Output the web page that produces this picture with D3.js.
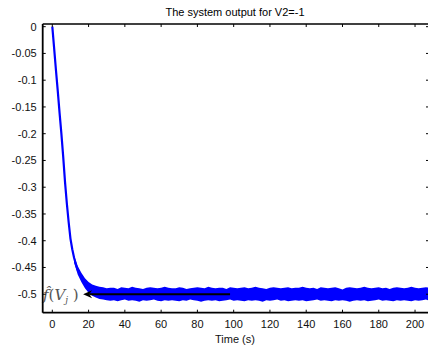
<!DOCTYPE html>
<html>
<head>
<meta charset="utf-8">
<style>
    body { margin: 0; background: #fff; }
    svg { display: block; }
    .tick-label { font-family: Arial, 'Liberation Sans', sans-serif; font-size: 11px; fill: #111; }
    .title { font-family: Arial, 'Liberation Sans', sans-serif; font-size: 11px; fill: #000; }
    .anno { font-family: 'DejaVu Serif', 'Liberation Serif', serif; font-style: italic; fill: #555; }
</style>
</head>
<body>
<svg width="428" height="350"></svg>
<script src="https://d3js.org/d3.v7.min.js"></script>
<script>
    // ticks
    const xTicks = [0, 20, 40, 60, 80, 100, 120, 140, 160, 180, 200];
    const yTicks = [0, -0.05, -0.1, -0.15, -0.2, -0.25, -0.3, -0.35, -0.4, -0.45, -0.5];

    // transient part of the output (centre line)
    const tFall = [0, 1, 2, 3, 4, 5, 6, 7, 8, 9, 10, 11, 12, 13, 14];
    const yFall = [0, -0.04, -0.081, -0.12, -0.161, -0.2, -0.243, -0.29, -0.33, -0.365, -0.396, -0.416, -0.432, -0.444, -0.455];

    // noisy band: sample times, upper and lower edge
    const tBand = [12, 14, 16, 18, 20, 22, 24, 26, 28, 30, 32, 34, 36, 38, 40, 42, 44, 46, 48,
        50, 52, 54, 56, 58, 60, 62, 64, 66, 68, 70, 72, 74, 76, 78, 80, 82, 84, 86, 88,
        90, 92, 94, 96, 98, 100, 102, 104, 106, 108, 110, 112, 114, 116, 118, 120, 122, 124, 126, 128,
        130, 132, 134, 136, 138, 140, 142, 144, 146, 148, 150, 152, 154, 156, 158, 160, 162, 164, 166, 168,
        170, 172, 174, 176, 178, 180, 182, 184, 186, 188, 190, 192, 194, 196, 198, 200, 202, 204, 206, 208];
    const yHi = [-0.428, -0.447, -0.460, -0.470, -0.477, -0.482, -0.484, -0.486, -0.487,
        -0.489, -0.488, -0.488, -0.490, -0.487, -0.488, -0.489, -0.486, -0.488, -0.489,
        -0.490, -0.488, -0.487, -0.488, -0.489, -0.488, -0.486, -0.488, -0.489, -0.489,
        -0.487, -0.488, -0.490, -0.489, -0.488, -0.487, -0.488, -0.489, -0.486, -0.488,
        -0.489, -0.488, -0.488, -0.490, -0.487, -0.488, -0.489, -0.488, -0.487, -0.489,
        -0.488, -0.486, -0.488, -0.489, -0.490, -0.488, -0.487, -0.488, -0.489, -0.488,
        -0.487, -0.489, -0.488, -0.488, -0.486, -0.488, -0.489, -0.488, -0.490, -0.487,
        -0.488, -0.489, -0.488, -0.487, -0.489, -0.491, -0.488, -0.487, -0.488, -0.489,
        -0.488, -0.486, -0.488, -0.489, -0.488, -0.487, -0.489, -0.488, -0.490, -0.488,
        -0.487, -0.488, -0.489, -0.488, -0.486, -0.488, -0.489, -0.488, -0.487, -0.488];
    const yLo = [-0.441, -0.463, -0.477, -0.489, -0.497, -0.503, -0.506, -0.509, -0.510,
        -0.511, -0.512, -0.511, -0.513, -0.511, -0.510, -0.512, -0.511, -0.512, -0.514,
        -0.511, -0.512, -0.511, -0.510, -0.512, -0.513, -0.511, -0.512, -0.511, -0.512,
        -0.513, -0.511, -0.512, -0.510, -0.511, -0.512, -0.514, -0.512, -0.511, -0.512,
        -0.511, -0.513, -0.512, -0.511, -0.510, -0.512, -0.511, -0.512, -0.513, -0.511,
        -0.512, -0.511, -0.512, -0.514, -0.511, -0.512, -0.511, -0.510, -0.512, -0.511,
        -0.513, -0.512, -0.511, -0.512, -0.511, -0.513, -0.512, -0.511, -0.510, -0.512,
        -0.511, -0.512, -0.513, -0.511, -0.512, -0.511, -0.512, -0.514, -0.512, -0.511,
        -0.512, -0.511, -0.513, -0.512, -0.511, -0.510, -0.512, -0.511, -0.512, -0.513,
        -0.511, -0.512, -0.511, -0.512, -0.513, -0.511, -0.512, -0.511, -0.510, -0.512];

    // annotation: arrow to the steady value
    const steady = -0.5;
    const arrowTip = 17;
    const arrowEnd = 98;

    const svg = d3.select("svg");
    const margin = { top: 24, right: -1, bottom: 37.3, left: 42.7 };
    const width = 428, height = 350;

    const x = d3.scaleLinear()
        .domain([-5.3, 207.7])
        .range([margin.left, width - margin.right]);

    const y = d3.scaleLinear()
        .domain([-0.5345, 0.005])
        .range([height - margin.bottom, margin.top]);

    const x0 = x.range()[0], x1 = x.range()[1];
    const y0 = y.range()[1], y1 = y.range()[0];

    // clip to the axes box
    svg.append("clipPath").attr("id", "clip")
        .append("rect").attr("x", x0).attr("y", y0).attr("width", x1 - x0).attr("height", y1 - y0);

    const plot = svg.append("g").attr("clip-path", "url(#clip)");

    // band
    const bandData = tBand.map((t, i) => ({ t: t, hi: yHi[i], lo: yLo[i] }));
    plot.append("path")
        .datum(bandData)
        .attr("d", d3.area().x(d => x(d.t)).y0(d => y(d.lo)).y1(d => y(d.hi)))
        .attr("fill", "#0000ff");

    // fall
    const fallData = tFall.map((t, i) => ({ t: t, v: yFall[i] }));
    plot.append("path")
        .datum(fallData)
        .attr("d", d3.line().x(d => x(d.t)).y(d => y(d.v)))
        .attr("fill", "none")
        .attr("stroke", "#0000ff")
        .attr("stroke-width", 2.2);

    // annotation arrow
    const ay = y(steady);
    const tipX = x(arrowTip);
    plot.append("line")
        .attr("x1", tipX + 6).attr("x2", x(arrowEnd))
        .attr("y1", ay).attr("y2", ay)
        .attr("stroke", "#000").attr("stroke-width", 1.8);
    plot.append("path")
        .attr("d", `M${tipX},${ay} L${tipX + 9},${ay - 4} L${tipX + 6},${ay} L${tipX + 9},${ay + 4} Z`)
        .attr("fill", "#000");

    const anno = svg.append("text").attr("class", "anno")
        .attr("x", 43).attr("y", ay + 6).attr("font-size", 15);
    anno.append("tspan").text("f\u0302");
    anno.append("tspan").attr("font-style", "normal").text("(");
    anno.append("tspan").text("V");
    anno.append("tspan").attr("font-size", 9).attr("dy", 3).text("j");
    anno.append("tspan").attr("font-style", "normal").attr("dy", -3).text(" )");

    // box
    const axes = svg.append("g");
    axes.append("line").attr("x1", x0).attr("x2", x0).attr("y1", y0).attr("y2", y1)
        .attr("stroke", "#000").attr("stroke-width", 1.8);
    axes.append("line").attr("x1", x0).attr("x2", x1).attr("y1", y1).attr("y2", y1)
        .attr("stroke", "#000").attr("stroke-width", 1.8);
    axes.append("line").attr("x1", x0).attr("x2", x1).attr("y1", y0).attr("y2", y0)
        .attr("stroke", "#000").attr("stroke-width", 1.4);
    axes.append("line").attr("x1", x1).attr("x2", x1).attr("y1", y0).attr("y2", y1)
        .attr("stroke", "#000").attr("stroke-width", 1.4);

    // inward ticks
    const tickLen = 3;
    xTicks.forEach(t => {
        axes.append("line").attr("x1", x(t)).attr("x2", x(t)).attr("y1", y1).attr("y2", y1 - tickLen)
            .attr("stroke", "#000").attr("stroke-width", 1);
        axes.append("line").attr("x1", x(t)).attr("x2", x(t)).attr("y1", y0).attr("y2", y0 + tickLen)
            .attr("stroke", "#000").attr("stroke-width", 1);
        axes.append("text").attr("class", "tick-label")
            .attr("x", x(t)).attr("y", y1 + 15).attr("text-anchor", "middle").text(t);
    });
    yTicks.forEach(v => {
        axes.append("line").attr("x1", x0).attr("x2", x0 + tickLen).attr("y1", y(v)).attr("y2", y(v))
            .attr("stroke", "#000").attr("stroke-width", 1);
        axes.append("line").attr("x1", x1).attr("x2", x1 - tickLen).attr("y1", y(v)).attr("y2", y(v))
            .attr("stroke", "#000").attr("stroke-width", 1);
        axes.append("text").attr("class", "tick-label")
            .attr("x", x0 - 6).attr("y", y(v) + 4).attr("text-anchor", "end").text(v);
    });

    svg.append("text").attr("class", "title")
        .attr("x", 235).attr("y", 16).attr("text-anchor", "middle")
        .text("The system output for V2=-1");
    svg.append("text").attr("class", "tick-label")
        .attr("x", 235).attr("y", 343).attr("text-anchor", "middle")
        .text("Time (s)");
</script>
</body>
</html>
